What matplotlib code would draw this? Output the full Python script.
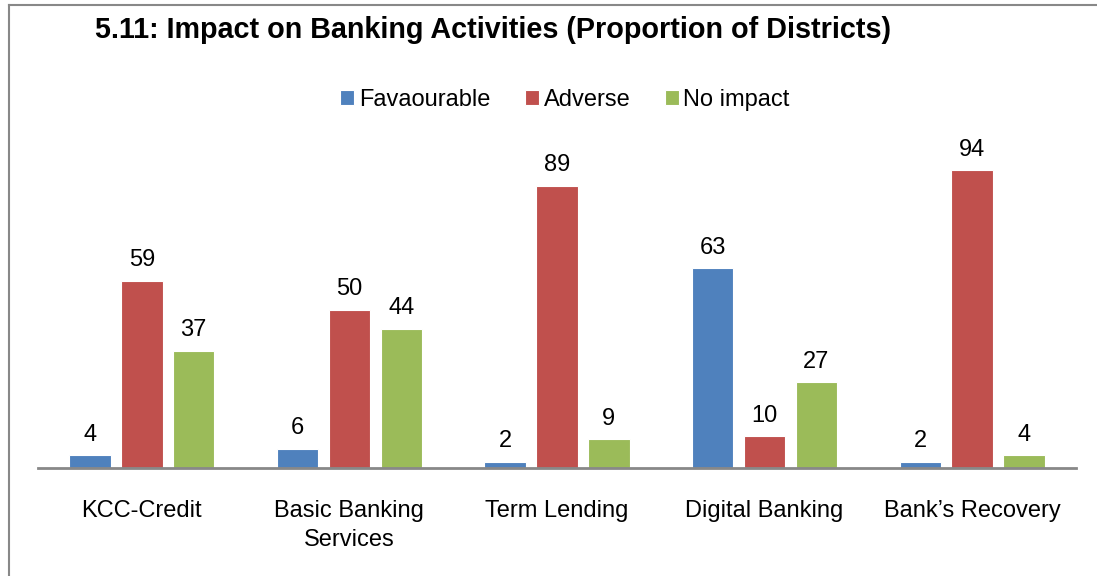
import matplotlib.pyplot as plt
import numpy as np

plt.rcParams['font.family'] = ['Liberation Sans', 'DejaVu Sans']

categories = ["KCC-Credit", "Basic Banking\nServices", "Term Lending", "Digital Banking", "Bank\u2019s Recovery"]
favourable = [4, 6, 2, 63, 2]
adverse = [59, 50, 89, 10, 94]
no_impact = [37, 44, 9, 27, 4]
series_names = ["Favaourable", "Adverse", "No impact"]
colors = ["#4F81BD", "#C0504D", "#9BBB59"]

fig = plt.figure(figsize=(10.97, 5.76), dpi=100)
ax = fig.add_axes([38 / 1097, (576 - 468) / 576, (1076 - 38) / 1097, (468 - 151) / 576])

x = np.arange(len(categories))
offsets = [-0.25, 0, 0.25]
for vals, name, col, off in zip([favourable, adverse, no_impact], series_names, colors, offsets):
    bars = ax.bar(x + off, vals, width=0.2, color=col, edgecolor='white', linewidth=0.8, label=name)
    for b, v in zip(bars, vals):
        ax.text(b.get_x() + b.get_width() / 2, v + 3.0, str(v), ha='center', va='bottom', fontsize=17)

ax.set_xlim(-0.5, len(categories) - 0.5)
ax.set_ylim(0, 100)
ax.set_yticks([])
ax.set_xticks(x)
ax.set_xticklabels(categories, fontsize=17, linespacing=1.4)
ax.tick_params(axis='x', length=0, pad=23)
for s in ['top', 'right', 'left']:
    ax.spines[s].set_visible(False)
ax.spines['bottom'].set_color('#888888')
ax.spines['bottom'].set_linewidth(2)

fig.text(95 / 1097, 1 - 30 / 576, "5.11: Impact on Banking Activities (Proportion of Districts)",
         fontsize=20.7, fontweight='bold', ha='left', va='center')

fig.legend(loc='center', bbox_to_anchor=(565 / 1097, 1 - 100 / 576), ncol=3, frameon=False,
           fontsize=17, handlelength=0.6, handleheight=0.6, handletextpad=0.2, columnspacing=1.45)

# figure border (left and top visible)
fig.add_artist(plt.Line2D([8.5 / 1097, 8.5 / 1097], [0, 1 - 5 / 576], transform=fig.transFigure, color='#888888', lw=1.5))
fig.add_artist(plt.Line2D([8.5 / 1097, 1], [1 - 5 / 576, 1 - 5 / 576], transform=fig.transFigure, color='#888888', lw=1.5))

fig.savefig("out.png", dpi=100)
